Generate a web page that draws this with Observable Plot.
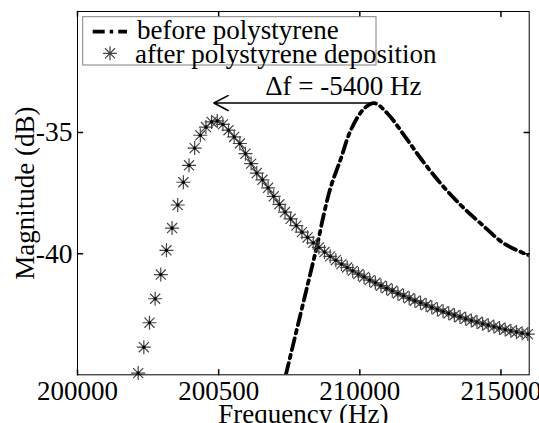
<!DOCTYPE html>
<html>
<head>
<meta charset="utf-8">
<script src="https://cdn.jsdelivr.net/npm/d3@7"></script>
<script src="https://cdn.jsdelivr.net/npm/@observablehq/plot@0.6"></script>
<style>
  html, body { margin: 0; padding: 0; background: #fff; }
  #chart { width: 539px; height: 423px; }
</style>
</head>
<body>
<div id="chart"></div>
<script>
// ---- data ----
const beforeFreq = [207380, 207820, 208260, 208500, 208730, 208970, 209330, 209680, 210150, 210510, 210980, 211570, 212160, 212870, 213580, 214290, 215120, 216000];
const beforeDb   = [-45.0, -42.88, -40.76, -39.59, -38.35, -37.25, -36.07, -34.90, -34.01, -33.78, -34.21, -35.11, -36.07, -37.11, -38.00, -38.76, -39.59, -40.07];

const afterFreq = [202150, 202350, 202550, 202750, 202950, 203150, 203350, 203550, 203750, 203950,
                   204150, 204350, 204550, 204750, 204950, 205150, 205350, 205550, 205750, 205950,
                   206150, 206350, 206550, 206750, 206950, 207150, 207350, 207550, 207750, 207950,
                   208150, 208350, 208550, 208750, 208950, 209150, 209350, 209550, 209750, 209950,
                   210150, 210350, 210550, 210750, 210950, 211150, 211350, 211550, 211750, 211950,
                   212150, 212350, 212550, 212750, 212950, 213150, 213350, 213550, 213750, 213950,
                   214150, 214350, 214550, 214750, 214950, 215150, 215350, 215550, 215750, 215950];
const afterDb = [-44.93, -43.86, -42.85, -41.86, -40.86, -39.86, -38.94, -37.99, -37.05, -36.35,
                 -35.64, -35.11, -34.77, -34.56, -34.52, -34.66, -34.90, -35.18, -35.45, -35.87,
                 -36.28, -36.67, -36.95, -37.28, -37.63, -37.96, -38.28, -38.56, -38.84, -39.11,
                 -39.33, -39.55, -39.74, -39.93, -40.11, -40.27, -40.43, -40.57, -40.71, -40.84,
                 -40.96, -41.09, -41.20, -41.32, -41.43, -41.53, -41.64, -41.74, -41.84, -41.94,
                 -42.03, -42.12, -42.21, -42.30, -42.38, -42.46, -42.54, -42.61, -42.69, -42.76,
                 -42.82, -42.89, -42.95, -43.01, -43.07, -43.13, -43.19, -43.23, -43.28, -43.32];

const xTicks = [200000, 205000, 210000, 215000];
const xTickLabels = ["200000", "200500", "210000", "215000"];
const yTicks = [-35, -40];

const seriesNames = ["before polystyrene", "after polystyrene deposition"];
const arrowFrom = [210510];
const arrowTo = [204830];
const arrowLevel = [-33.78];
const deltaLabel = ["Δf = -5400 Hz"];
const deltaLabelX = [209415];
const deltaLabelY = [-33.46];
const xTitle = "Frequency (Hz)";
const yTitle = "Magnitude (dB)";

// ---- build tables ----
const before = beforeFreq.map((f, i) => ({f, db: beforeDb[i]}));
const after = afterFreq.map((f, i) => ({f, db: afterDb[i]}));
const afterTail = after.slice(13);
const arrows = arrowFrom.map((f, i) => ({x1: f, x2: arrowTo[i], y: arrowLevel[i]}));
const labels = deltaLabel.map((t, i) => ({t, x: deltaLabelX[i], y: deltaLabelY[i]}));

// 8-armed asterisk (MATLAB style '*')
const asterisk8 = {
  draw(ctx, size) {
    const r = Math.sqrt(size / Math.PI);
    const d = r * 0.72;
    ctx.moveTo(-r, 0); ctx.lineTo(r, 0);
    ctx.moveTo(0, -r); ctx.lineTo(0, r);
    ctx.moveTo(-d, -d); ctx.lineTo(d, d);
    ctx.moveTo(-d, d); ctx.lineTo(d, -d);
  }
};
const tickShape = { draw(ctx, l) { ctx.moveTo(0, 0); ctx.lineTo(0, -l); } };
const dashDot = "12,5,3.5,5";
const FONT = "'Liberation Serif', 'Times New Roman', serif";

const chart = Plot.plot({
  width: 539,
  height: 423,
  marginLeft: 77,
  marginRight: 10.3,
  marginTop: 11,
  marginBottom: 48.7,
  style: {fontFamily: FONT, fontSize: "27px", color: "black", background: "white"},
  x: {domain: [200000, 216000]},
  y: {domain: [-45, -30]},
  marks: [
    // inward ticks on all four sides
    Plot.vector(xTicks, {x: d => d, frameAnchor: "bottom", length: 5, rotate: 0, anchor: "start", shape: tickShape, stroke: "black"}),
    Plot.vector(xTicks, {x: d => d, frameAnchor: "top", length: 5, rotate: 180, anchor: "start", shape: tickShape, stroke: "black"}),
    Plot.vector(yTicks, {y: d => d, frameAnchor: "left", length: 5, rotate: 90, anchor: "start", shape: tickShape, stroke: "black"}),
    Plot.vector(yTicks, {y: d => d, frameAnchor: "right", length: 5, rotate: 270, anchor: "start", shape: tickShape, stroke: "black"}),
    Plot.axisX(xTicks, {tickSize: 0, tickPadding: 6, label: null, tickFormat: d => xTickLabels[xTicks.indexOf(d)], fontSize: 27}),
    Plot.axisY(yTicks, {tickSize: 0, tickPadding: 5, label: null, tickFormat: d => String(d), fontSize: 27.5}),
    Plot.text([xTitle], {text: d => d, frameAnchor: "bottom", textAnchor: "middle", dy: 48, lineAnchor: "bottom", fontSize: 27}),
    Plot.text([yTitle], {text: d => d, frameAnchor: "left", textAnchor: "middle", dx: -52, rotate: -90, fontSize: 27}),
    // before: thick dash-dot line
    Plot.line(before, {x: "f", y: "db", stroke: "black", strokeWidth: 3.8, strokeDasharray: dashDot, curve: "catmull-rom", clip: true}),
    // after: asterisks with dark centres and a thin line along the tail
    Plot.line(afterTail, {x: "f", y: "db", stroke: "black", strokeWidth: 1}),
    Plot.dot(after, {x: "f", y: "db", symbol: asterisk8, r: 7, stroke: "#454545", strokeWidth: 1.2}),
    Plot.dot(after, {x: "f", y: "db", r: 1.6, fill: "black", stroke: "none"}),
    // annotation
    Plot.arrow(arrows, {x1: "x1", x2: "x2", y1: "y", y2: "y", bend: 0, headLength: 15, headAngle: 55, stroke: "black", strokeWidth: 1.6}),
    Plot.text(labels, {x: "x", y: "y", text: "t", lineAnchor: "bottom", textAnchor: "middle", fontSize: 27}),
    Plot.frame({stroke: "black", strokeWidth: 1})
  ]
});

document.getElementById("chart").appendChild(chart);

// legend drawn inside the plot area
const svg = d3.select(chart);
const lg = svg.append("g").attr("class", "legend").attr("font-family", FONT).attr("text-anchor", "start");
lg.append("rect").attr("x", 82.7).attr("y", 16.7).attr("width", 293.3).attr("height", 48.3)
  .attr("fill", "white").attr("stroke", "#808080").attr("stroke-width", 1);
lg.append("line").attr("x1", 92.7).attr("x2", 127).attr("y1", 31.7).attr("y2", 31.7)
  .attr("stroke", "black").attr("stroke-width", 3.8).attr("stroke-dasharray", dashDot);
lg.append("path").attr("transform", "translate(110,53.3)")
  .attr("d", d3.symbol(asterisk8, Math.PI * 49)())
  .attr("fill", "none").attr("stroke", "#454545").attr("stroke-width", 1.2);
lg.append("text").attr("x", 137).attr("y", 39).attr("font-size", 27).attr("text-anchor", "start").text(seriesNames[0]);
lg.append("text").attr("x", 135).attr("y", 63.3).attr("font-size", 27).attr("text-anchor", "start").text(seriesNames[1]);
</script>
</body>
</html>
